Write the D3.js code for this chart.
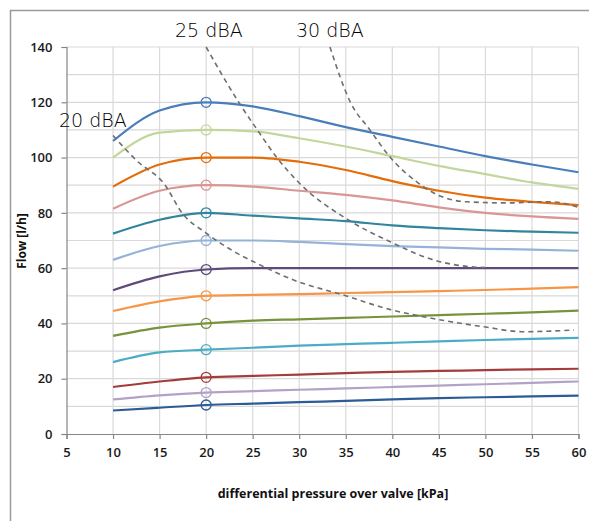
<!DOCTYPE html>
<html><head><meta charset="utf-8">
<script src="https://cdn.jsdelivr.net/npm/d3@7"></script>
<style>
html,body{margin:0;padding:0;background:#fff;}
svg{display:block;}
</style></head>
<body>
<svg id="chart" width="589" height="521"></svg>
<script>
// ---- data ----
const pressures = [10, 15, 20, 25, 30, 35, 40, 45, 50, 55, 60];
const xTicks = [5, 10, 15, 20, 25, 30, 35, 40, 45, 50, 55, 60];
const yTicks = [0, 20, 40, 60, 80, 100, 120, 140];
const seriesColors = ["#4a7ebb","#c3d69b","#e46c0a","#d99694","#31859c","#95b3d7","#604a7b","#f79646","#77933c","#4bacc6","#a33c3a","#b3a2c7","#2c5c96"];
const s1  = [106, 117, 120, 118.5, 115, 111, 107.5, 104, 100.5, 97.5, 94.7];
const s2  = [100, 109, 110, 109.5, 107, 104, 100.5, 97, 94, 91, 88.7];
const s3  = [89.5, 97.5, 100, 100, 98.5, 95.5, 91.5, 88, 85.5, 84, 82.8];
const s4  = [81.5, 88, 90, 89.5, 88, 86.5, 84.5, 82, 80, 78.7, 77.8];
const s5  = [72.5, 77.5, 80, 79, 78, 77, 75.5, 74.5, 73.7, 73.2, 72.8];
const s6  = [63, 68, 70, 70, 69.5, 68.7, 68, 67.5, 67, 66.7, 66.3];
const s7  = [52, 57, 59.5, 60, 60, 60, 60, 60, 60, 60, 60];
const s8  = [44.5, 48, 50, 50.3, 50.6, 51, 51.3, 51.7, 52.1, 52.6, 53.1];
const s9  = [35.5, 38.5, 40, 41, 41.5, 42, 42.5, 43, 43.5, 44, 44.6];
const s10 = [26, 29.5, 30.5, 31.2, 32, 32.5, 33, 33.5, 34, 34.4, 34.8];
const s11 = [17, 19, 20.5, 21, 21.5, 22, 22.5, 22.8, 23.1, 23.4, 23.6];
const s12 = [12.5, 14, 15, 15.5, 16, 16.5, 17, 17.5, 18, 18.5, 19];
const s13 = [8.5, 9.5, 10.5, 11, 11.5, 12, 12.5, 13, 13.3, 13.6, 13.9];
const seriesValues = [s1,s2,s3,s4,s5,s6,s7,s8,s9,s10,s11,s12,s13];
const markerPressure = 20;

// noise (dBA) curves
const dba20X = [10, 12.5, 15.6, 17.4, 20, 23, 25.3, 29.4, 34.7, 39.8, 44, 50, 54, 59.5];
const dba20Y = [108, 99, 90, 80, 72.7, 66, 62, 55.7, 50.3, 45, 42, 38.7, 37, 37.6];
const dba25X = [20, 23.5, 25.5, 27.6, 29.8, 35.3, 39.8, 44.4, 48.1, 50];
const dba25Y = [140, 120, 110, 100, 91.5, 77.4, 69.5, 63, 60.6, 60.2];
const dba30X = [33.3, 35.5, 37.6, 39.8, 42.7, 45.2, 48, 52.4, 57, 60];
const dba30Y = [140, 120, 110, 100, 91, 86, 84, 83.6, 84, 82];
const dbaLabels = ["20 dBA", "25 dBA", "30 dBA"];

// ---- chart ----
const svg = d3.select("#chart");
const x = d3.scaleLinear().domain([5, 60]).range([66.5, 578.5]);
const y = d3.scaleLinear().domain([0, 140]).range([434, 47]);

// outer frame
svg.append("rect").attr("x", 10.5).attr("y", 10.5).attr("width", 700).attr("height", 700)
  .attr("fill", "none").attr("stroke", "#9a9a9a").attr("stroke-width", 1.5);

// grid
const grid = svg.append("g").attr("stroke", "#d9d9d9").attr("stroke-width", 1.2);
d3.range(10, 61, 5).forEach(v => {
  grid.append("line").attr("x1", x(v)).attr("x2", x(v)).attr("y1", y(0)).attr("y2", y(140));
});
d3.range(10, 141, 10).forEach(v => {
  grid.append("line").attr("x1", x(5)).attr("x2", x(60)).attr("y1", y(v)).attr("y2", y(v));
});

// axes
const xAxis = svg.append("g").attr("transform", `translate(0,${y(0)})`)
  .call(d3.axisBottom(x).tickValues(xTicks).tickSize(5).tickPadding(9).tickFormat(d3.format("d")));
const yAxis = svg.append("g").attr("transform", `translate(${x(5)},0)`)
  .call(d3.axisLeft(y).tickValues(yTicks).tickSize(5).tickPadding(9).tickFormat(d3.format("d")));
[xAxis, yAxis].forEach(a => {
  a.select(".domain").attr("stroke", "#868686").attr("stroke-width", 1.2);
  a.selectAll(".tick line").attr("stroke", "#868686").attr("stroke-width", 1.2);
  a.selectAll(".tick text").attr("fill", "#1a1a1a").style("font-family", "'Open Sans', sans-serif")
    .style("font-size", "13px").style("font-weight", "600");
});

// series
const line = d3.line().x((d, i) => x(pressures[i])).y(d => y(d)).curve(d3.curveMonotoneX);
seriesValues.forEach((vals, k) => {
  svg.append("path").datum(vals).attr("d", line)
    .attr("fill", "none").attr("stroke", seriesColors[k]).attr("stroke-width", 2.2);
  const idx = pressures.indexOf(markerPressure);
  svg.append("circle").attr("cx", x(markerPressure)).attr("cy", y(vals[idx])).attr("r", 5)
    .attr("fill", "none").attr("stroke", seriesColors[k]).attr("stroke-width", 1.3);
});

// dBA dashed lines
const dline = d3.line().curve(d3.curveMonotoneX);
[[dba20X, dba20Y], [dba25X, dba25Y], [dba30X, dba30Y]].forEach(([xs, ys]) => {
  const pts = xs.map((v, i) => [x(v), y(ys[i])]);
  svg.append("path").attr("d", dline(pts)).attr("fill", "none")
    .attr("stroke", "#6f6f6f").attr("stroke-width", 1.6).attr("stroke-dasharray", "5,4");
});

// dBA labels
const lblFont = "'DejaVu Sans', sans-serif";
[[dbaLabels[0], 59, 127], [dbaLabels[1], 175, 37], [dbaLabels[2], 296, 37]].forEach(([t, lx, ly]) => {
  svg.append("text").attr("x", lx).attr("y", ly).text(t)
    .style("font-family", lblFont).style("font-weight", "200").style("font-size", "19px").attr("fill", "#000");
});

// axis titles
svg.append("text").attr("transform", `translate(26,${241}) rotate(-90)`).attr("text-anchor", "middle")
  .text("Flow [l/h]").style("font-family", "'Open Sans', sans-serif").style("font-weight", "700")
  .style("font-size", "12px").attr("fill", "#111");
svg.append("text").attr("x", 333).attr("y", 498).attr("text-anchor", "middle")
  .text("differential pressure over valve [kPa]").style("font-family", "'Open Sans', sans-serif")
  .style("font-weight", "700").style("font-size", "12.5px").attr("fill", "#111");
</script>
</body></html>
